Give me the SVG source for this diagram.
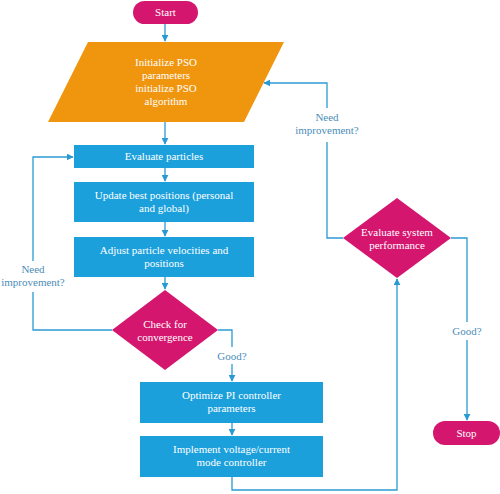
<svg xmlns="http://www.w3.org/2000/svg" width="500" height="494" viewBox="0 0 500 494">
<style>
.term{fill:#D5166F}
.proc{fill:#1BA0DC}
.io{fill:#F0950E}
.dec{fill:#D5166F}
.t{font-family:"Liberation Serif","Times New Roman",serif;font-size:11px;fill:#FFFFFF;text-anchor:middle}
.lbl{font-family:"Liberation Serif","Times New Roman",serif;font-size:11px;fill:#4B8DB8;text-anchor:middle}
.ln{fill:none;stroke:#2B9AD3;stroke-width:1.3}
</style>
<defs>
<marker id="ah" viewBox="0 0 10 10" refX="9" refY="5" markerWidth="7" markerHeight="7" markerUnits="userSpaceOnUse" orient="auto">
<path d="M0,0 L10,5 L0,10 Z" fill="#2B9AD3"/>
</marker>
</defs>
<g id="connectors">
<line class="ln" x1="165" y1="24" x2="165" y2="41" marker-end="url(#ah)"/>
<line class="ln" x1="165" y1="122" x2="165" y2="144" marker-end="url(#ah)"/>
<line class="ln" x1="165" y1="168" x2="165" y2="181" marker-end="url(#ah)"/>
<line class="ln" x1="165" y1="222" x2="165" y2="236" marker-end="url(#ah)"/>
<line class="ln" x1="165" y1="277" x2="165" y2="289" marker-end="url(#ah)"/>
<polyline class="ln" points="112,330 33,330 33,292"/>
<polyline class="ln" points="33,261 33,157 73,157" marker-end="url(#ah)"/>
<polyline class="ln" points="218,330 232,330 232,347"/>
<line class="ln" x1="232" y1="364" x2="232" y2="381" marker-end="url(#ah)"/>
<line class="ln" x1="232" y1="423" x2="232" y2="435" marker-end="url(#ah)"/>
<polyline class="ln" points="232,477 232,490 397,490 397,279" marker-end="url(#ah)"/>
<polyline class="ln" points="343,238 327,238 327,142"/>
<polyline class="ln" points="327,108 327,83 264,83" marker-end="url(#ah)"/>
<polyline class="ln" points="451,238 467,238 467,322"/>
<line class="ln" x1="467" y1="340" x2="467" y2="420" marker-end="url(#ah)"/>
</g>
<g id="labels">
<text class="lbl" x="33" y="273">Need</text>
<text class="lbl" x="33" y="286">improvement?</text>
<text class="lbl" x="232" y="360">Good?</text>
<text class="lbl" x="327" y="121">Need</text>
<text class="lbl" x="327" y="134">improvement?</text>
<text class="lbl" x="467" y="335">Good?</text>
</g>
<g id="start">
<rect class="term" x="133" y="1" width="65" height="23" rx="11.5"/>
<text class="t" x="165.5" y="16">Start</text>
</g>
<g id="init">
<polygon class="io" points="88,42 284,42 244,122 48,122"/>
<text class="t" x="166" y="66">Initialize PSO</text>
<text class="t" x="166" y="79">parameters</text>
<text class="t" x="166" y="92">initialize PSO</text>
<text class="t" x="166" y="105">algorithm</text>
</g>
<g id="evaluate">
<rect class="proc" x="74" y="145" width="180" height="23"/>
<text class="t" x="164" y="160">Evaluate particles</text>
</g>
<g id="update">
<rect class="proc" x="74" y="182" width="180" height="40"/>
<text class="t" x="164" y="199">Update best positions (personal</text>
<text class="t" x="164" y="212">and global)</text>
</g>
<g id="adjust">
<rect class="proc" x="74" y="237" width="180" height="40"/>
<text class="t" x="164" y="254">Adjust particle velocities and</text>
<text class="t" x="164" y="267">positions</text>
</g>
<g id="check">
<polygon class="dec" points="165,290 218,330 165,370 112,330"/>
<text class="t" x="165" y="328">Check for</text>
<text class="t" x="165" y="341">convergence</text>
</g>
<g id="optimize">
<rect class="proc" x="140" y="382" width="183" height="41"/>
<text class="t" x="231.5" y="399">Optimize PI controller</text>
<text class="t" x="231.5" y="412">parameters</text>
</g>
<g id="implement">
<rect class="proc" x="140" y="436" width="183" height="41"/>
<text class="t" x="231.5" y="453">Implement voltage/current</text>
<text class="t" x="231.5" y="466">mode controller</text>
</g>
<g id="system">
<polygon class="dec" points="397,198 451,238 397,278 343,238"/>
<text class="t" x="397" y="236">Evaluate system</text>
<text class="t" x="397" y="249">performance</text>
</g>
<g id="stop">
<rect class="term" x="433" y="421" width="67" height="24" rx="12"/>
<text class="t" x="466.5" y="437">Stop</text>
</g>
</svg>
